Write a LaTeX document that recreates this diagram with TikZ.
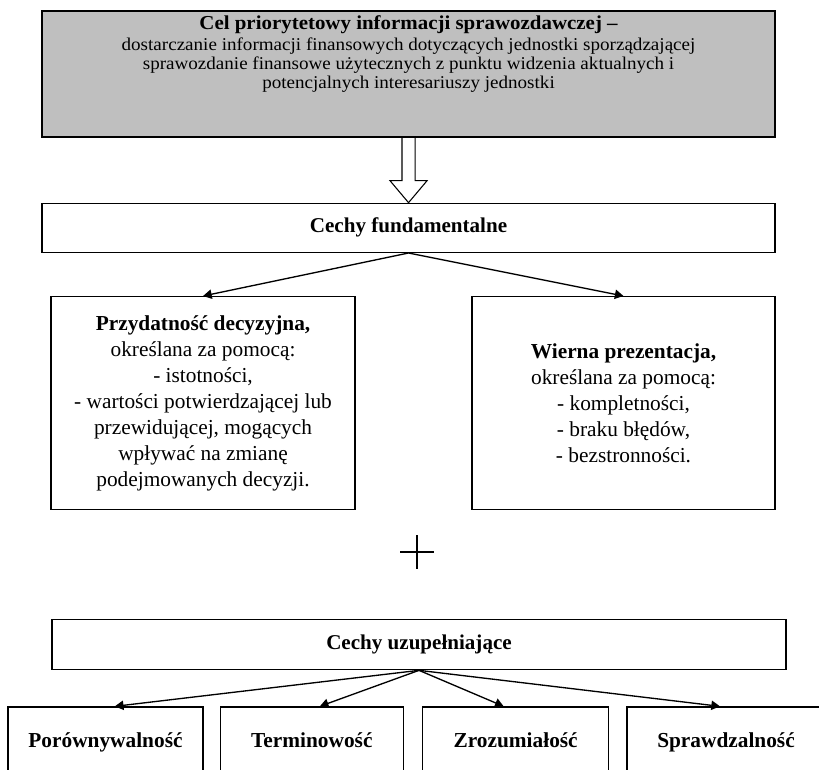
\documentclass[tikz,border=0pt]{standalone}
\usepackage{fontspec}
\setmainfont{Liberation Serif}
\newfontfamily\goalfont[FakeStretch=1.06]{Liberation Serif}
\usetikzlibrary{arrows.meta, positioning}

\begin{document}
\begin{tikzpicture}[x=1pt, y=-1pt,
  goalbox/.style={rectangle, minimum width=549.75pt, minimum height=94.5pt, text centered, align=center, draw=black, fill=gray!50, line width=1pt, font=\goalfont\fontsize{13.5}{14}\selectfont},
  heading/.style={rectangle, minimum width=549.75pt, minimum height=36.75pt, text centered, align=center, draw=black, line width=1pt, text height=11pt, text depth=3.5pt, font=\bfseries\fontsize{15.8}{16}\selectfont},
  feature/.style={rectangle, minimum width=228pt, minimum height=159.75pt, text centered, align=center, draw=black, line width=1pt, font=\fontsize{16}{19.5}\selectfont},
  quality/.style={rectangle, minimum width=140pt, minimum height=52.5pt, text centered, align=center, draw=black, line width=1pt, text height=11.5pt, text depth=3.5pt, font=\bfseries\fontsize{16}{16}\selectfont},
  arrow/.style={line width=1pt,->,>={Triangle[length=6.5pt,width=7pt]}}]

  \useasboundingbox (0,0) rectangle (614.25,576.75);

  % Nodes
  \node (goal) [goalbox] at (306.4,55.5) {{\fontsize{14.8}{14}\selectfont\bfseries Cel priorytetowy informacji sprawozdawczej –}\\[2pt] dostarczanie informacji finansowych dotyczących jednostki sporządzającej\\ sprawozdanie finansowe użytecznych z punktu widzenia aktualnych i\\ potencjalnych interesariuszy jednostki\\[19pt]\mbox{}};
  \node (fund) [heading, below=48.75pt of goal] {Cechy fundamentalne};

  \node (useful) [feature, below right=32.25pt and 6.75pt of fund.south west] {\textbf{Przydatność decyzyjna,}\\ określana za pomocą:\\ - istotności,\\ - wartości potwierdzającej lub\\ przewidującej, mogących\\ wpływać na zmianę\\ podejmowanych decyzji.};
  \node (faithful) [feature, minimum width=227.25pt, below left=32.25pt and 0pt of fund.south east] {\textbf{Wierna prezentacja,}\\ określana za pomocą:\\ - kompletności,\\ - braku błędów,\\ - bezstronności.};

  \coordinate (plus) at (312.75,414);

  \node (supp) [heading, minimum width=550.5pt, minimum height=37.5pt, below=274.5pt of fund, xshift=7.85pt] {Cechy uzupełniające};
  \node (comparable) [quality, minimum width=146.25pt, below right=27pt and -33pt of supp.south west] {Porównywalność};
  \node (timely) [quality, minimum width=137.25pt, right=12pt of comparable] {Terminowość};
  \node (understandable) [quality, minimum width=139.5pt, right=13.5pt of timely] {Zrozumiałość};
  \node (verifiable) [quality, minimum width=148.5pt, right=12.75pt of understandable] {Sprawdzalność};

  % Arrows
  \draw [line width=0.8pt] (goal.south) ++(-4.9,0) -- ++(0,32.25) -- ++(-9,0) -- (fund.north) -- ++(13.9,-16.5) -- ++(-9,0) -- ++(0,-32.25);

  \draw [arrow] (fund.south) -- (useful.north);
  \draw [arrow] (fund.south) -- (faithful.north);

  \draw [line width=0.8pt] (plus) ++(-12.75,0) -- ++(25.5,0) (plus) ++(0,-12.75) -- ++(0,25.5);

  \draw [arrow] (supp.south) -- ([xshift=7pt]comparable.north);
  \draw [arrow] (supp.south) -- ([xshift=6pt]timely.north);
  \draw [arrow] (supp.south) -- ([xshift=-9pt]understandable.north);
  \draw [arrow] (supp.south) -- ([xshift=-4.5pt]verifiable.north);
\end{tikzpicture}
\end{document}
